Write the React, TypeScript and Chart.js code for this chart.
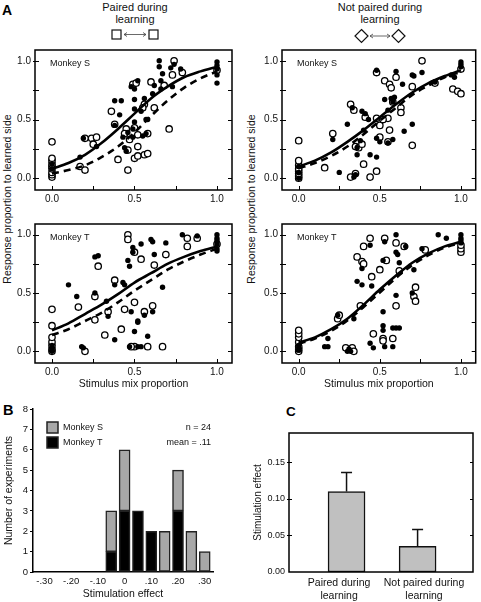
import React, { useEffect, useRef } from "react";
import { Chart, registerables } from "chart.js";

Chart.register(...registerables);

const FONT = "'Liberation Sans', Arial, Helvetica, sans-serif";
Chart.defaults.font.family = FONT;
Chart.defaults.color = "#111";

// ---------------- data ----------------
const curveX = [0, 0.1, 0.2, 0.3, 0.4, 0.5, 0.6, 0.7, 0.8, 0.9, 1.0];
const mixTicks = [0, 0.5, 1];
const mixMinorTicks = [0, 0.25, 0.5, 0.75, 1];

// Paired during learning, Monkey S
const tlSolid = [0.08, 0.13, 0.2, 0.3, 0.42, 0.55, 0.68, 0.78, 0.86, 0.91, 0.95];
const tlDashed = [0.04, 0.07, 0.11, 0.18, 0.27, 0.39, 0.53, 0.66, 0.77, 0.85, 0.91];
const tlFilled: [number, number][] = [
  [0, 0.08], [0, 0.12], [0.17, 0.18], [0.19, 0.34], [0.27, 0.27], [0.38, 0.66], [0.42, 0.66], [0.41, 0.54],
  [0.38, 0.45], [0.46, 0.39], [0.49, 0.35], [0.44, 0.26], [0.43, 0.35], [0.49, 0.42], [0.5, 0.59], [0.5, 0.67],
  [0.52, 0.83], [0.48, 0.78], [0.5, 0.76], [0.54, 0.57], [0.56, 0.68], [0.61, 0.72], [0.58, 0.5], [0.62, 0.79],
  [0.66, 0.76], [0.66, 0.83], [0.67, 0.89], [0.65, 1.0], [0.65, 0.95], [0.72, 0.94], [0.74, 0.97], [0.73, 0.78],
  [0.78, 0.93], [1, 0.99], [1, 0.96], [1, 0.93], [1, 0.88], [1, 0.81], [0.5, 0.48], [0.57, 0.38], [0.45, 0.23],
  [0.55, 0.36], [0.57, 0.5],
];
const tlOpen: [number, number][] = [
  [0, 0.01], [0, 0.03], [0, 0.05], [0, 0.08], [0, 0.1], [0, 0.12], [0, 0.15], [0, 0.17], [0, 0.31], [0.17, 0.1],
  [0.2, 0.07], [0.24, 0.34], [0.27, 0.35], [0.25, 0.29], [0.36, 0.57], [0.4, 0.16], [0.38, 0.46], [0.45, 0.42],
  [0.46, 0.24], [0.46, 0.07], [0.49, 0.8], [0.5, 0.43], [0.52, 0.37], [0.52, 0.27], [0.5, 0.17], [0.52, 0.19],
  [0.56, 0.2], [0.58, 0.21], [0.56, 0.63], [0.58, 0.38], [0.6, 0.82], [0.62, 0.6], [0.71, 0.42], [0.73, 0.88],
  [0.74, 1.0], [0.79, 0.9], [1, 0.92], [0.47, 0.33], [0.44, 0.38], [0.55, 0.6], [0.51, 0.81], [0.68, 0.79],
  [0.2, 0.34],
];

// Not paired during learning, Monkey S
const trSolid = [0.1, 0.15, 0.22, 0.31, 0.41, 0.52, 0.63, 0.73, 0.81, 0.87, 0.92];
const trDashed = [0.085, 0.13, 0.19, 0.27, 0.375, 0.49, 0.6, 0.71, 0.79, 0.86, 0.905];
const trFilled: [number, number][] = [
  [0, 0.0], [0, 0.05], [0, 0.1], [0.21, 0.33], [0.25, 0.05], [0.3, 0.46], [0.33, 0.6], [0.34, 0.01], [0.36, 0.2],
  [0.36, 0.26], [0.38, 0.32], [0.39, 0.57], [0.41, 0.55], [0.43, 0.5], [0.44, 0.2], [0.48, 0.18], [0.48, 0.34],
  [0.48, 0.92], [0.5, 0.31], [0.53, 0.67], [0.55, 0.58], [0.57, 0.68], [0.58, 0.65], [0.59, 0.69], [0.6, 0.91],
  [0.58, 0.33], [0.65, 0.4], [0.64, 0.8], [0.7, 0.46], [0.71, 0.87], [0.76, 0.9], [0.84, 0.82], [0.94, 0.88],
  [0.96, 0.86], [1, 0.97], [1, 0.99], [1, 0.95], [0.35, 0.03], [0.55, 0.3], [0.7, 0.88], [0.4, 0.41],
];
const trOpen: [number, number][] = [
  [0, 0.0], [0, 0.02], [0, 0.04], [0, 0.06], [0, 0.08], [0, 0.11], [0, 0.15], [0, 0.32], [0.16, 0.09], [0.21, 0.38],
  [0.32, 0.01], [0.35, 0.04], [0.32, 0.63], [0.34, 0.58], [0.35, 0.27], [0.37, 0.26], [0.39, 0.29], [0.4, 0.12],
  [0.41, 0.52], [0.48, 0.9], [0.48, 0.51], [0.5, 0.45], [0.5, 0.35], [0.48, 0.06], [0.44, 0.01], [0.53, 0.83],
  [0.55, 0.51], [0.55, 0.31], [0.56, 0.8], [0.57, 0.77], [0.56, 0.41], [0.6, 0.86], [0.63, 0.6], [0.63, 0.56],
  [0.7, 0.78], [0.7, 0.28], [0.76, 1.0], [0.84, 0.81], [0.95, 0.76], [0.98, 0.74], [1, 0.72], [1, 0.93],
  [0.58, 0.65], [0.52, 0.5],
];

// Paired during learning, Monkey T
const blSolid = [0.18, 0.24, 0.32, 0.4, 0.49, 0.59, 0.67, 0.75, 0.81, 0.86, 0.9];
const blDashed = [0.14, 0.19, 0.26, 0.33, 0.42, 0.52, 0.61, 0.7, 0.77, 0.83, 0.88];
const blFilled: [number, number][] = [
  [0, 0.0], [0, 0.01], [0, 0.02], [0, 0.03], [0, 0.05], [0.1, 0.57], [0.18, 0.04], [0.15, 0.47], [0.19, 0.03],
  [0.26, 0.81], [0.28, 0.82], [0.26, 0.5], [0.33, 0.43], [0.34, 0.3], [0.38, 0.57], [0.38, 0.1], [0.43, 0.59],
  [0.44, 0.57], [0.46, 0.78], [0.47, 0.73], [0.48, 0.34], [0.49, 0.89], [0.49, 0.85], [0.5, 0.17], [0.52, 0.25],
  [0.54, 0.92], [0.47, 0.04], [0.52, 0.04], [0.54, 0.04], [0.56, 0.31], [0.58, 0.13], [0.6, 0.96], [0.61, 0.94],
  [0.62, 0.83], [0.61, 0.34], [0.67, 0.55], [0.69, 0.93], [0.79, 1.0], [0.88, 0.99], [1, 1.0], [1, 0.97],
  [1, 0.95], [1, 0.92], [1, 0.88], [1, 0.86], [0.52, 0.26],
];
const blOpen: [number, number][] = [
  [0, 0.0], [0, 0.02], [0, 0.05], [0, 0.08], [0, 0.12], [0, 0.22], [0, 0.36], [0.16, 0.38], [0.2, 0.0],
  [0.26, 0.47], [0.26, 0.27], [0.28, 0.73], [0.32, 0.14], [0.34, 0.34], [0.38, 0.61], [0.42, 0.19], [0.44, 0.36],
  [0.46, 1.0], [0.46, 0.96], [0.5, 0.85], [0.5, 0.04], [0.5, 0.42], [0.54, 0.79], [0.56, 0.34], [0.58, 0.04],
  [0.61, 0.39], [0.62, 0.74], [0.69, 0.83], [0.67, 0.04], [0.82, 0.97], [0.82, 0.9], [0.88, 0.97], [1, 0.92],
  [0.48, 0.04],
];

// Not paired during learning, Monkey T
const brSolid = [0.076, 0.12, 0.19, 0.28, 0.4, 0.53, 0.65, 0.76, 0.84, 0.9, 0.94];
const brDashed = [0.065, 0.11, 0.175, 0.265, 0.38, 0.505, 0.63, 0.74, 0.825, 0.89, 0.93];
const brFilled: [number, number][] = [
  [0, 0.01], [0, 0.03], [0, 0.05], [0.16, 0.04], [0.18, 0.04], [0.18, 0.11], [0.24, 0.31], [0.3, 0.0], [0.32, 0.0],
  [0.34, 0.28], [0.36, 0.6], [0.39, 0.71], [0.39, 0.57], [0.44, 0.91], [0.45, 0.56], [0.44, 0.07], [0.46, 0.03],
  [0.52, 0.34], [0.52, 0.22], [0.52, 0.18], [0.53, 0.94], [0.53, 0.04], [0.52, 0.78], [0.58, 0.04], [0.58, 0.2],
  [0.6, 1.0], [0.6, 0.85], [0.6, 0.48], [0.61, 0.83], [0.62, 0.76], [0.62, 0.2], [0.66, 0.9], [0.71, 0.7],
  [0.7, 0.5], [0.76, 0.88], [0.86, 1.0], [0.91, 0.97], [1, 1.0], [1, 0.97], [1, 0.95], [1, 0.93], [0.6, 0.2],
  [0.31, 0.02],
];
const brOpen: [number, number][] = [
  [0, 0.0], [0, 0.02], [0, 0.04], [0, 0.08], [0, 0.12], [0, 0.15], [0, 0.18], [0.24, 0.28], [0.25, 0.31],
  [0.29, 0.03], [0.33, 0.03], [0.34, 0.0], [0.36, 0.81], [0.39, 0.77], [0.4, 0.75], [0.38, 0.39], [0.44, 0.97],
  [0.4, 0.9], [0.45, 0.64], [0.46, 0.15], [0.5, 0.7], [0.53, 0.97], [0.54, 0.78], [0.52, 0.11], [0.52, 0.09],
  [0.6, 0.93], [0.62, 0.69], [0.65, 0.9], [0.6, 0.39], [0.58, 0.11], [0.71, 0.47], [0.72, 0.43], [0.72, 0.55],
  [0.78, 0.87], [1, 0.85], [1, 0.88], [1, 0.91],
];

// Panel B histogram
const bBins = [-0.05, 0, 0.05, 0.1, 0.15, 0.2, 0.25, 0.3];
const bMonkeyT = [1, 3, 3, 2, 0, 3, 0, 0];
const bMonkeyS = [2, 3, 0, 0, 2, 2, 2, 1];
const bTickValues = [-0.3, -0.2, -0.1, 0, 0.1, 0.2, 0.3];
const bTickLabels = ["-.30", "-.20", "-.10", "0", ".10", ".20", ".30"];
const bStats = ["n = 24", "mean = .11"];

// Panel C
const cCategories = [["Paired during", "learning"], ["Not paired during", "learning"]];
const cValues = [0.11, 0.035];
const cErrors = [0.026, 0.023];
const cTicks = [0, 0.05, 0.1, 0.15];

// ---------------- plugins (closure based) ----------------
function makeFrame(cfg: { xTicks: number[]; yTicks: number[]; tickLen: number; outLen: number; lineWidth: number }) {
  return {
    id: "frame",
    afterDraw(chart: any) {
      const { ctx, chartArea: a, scales } = chart;
      ctx.save();
      ctx.strokeStyle = "#000";
      ctx.lineWidth = cfg.lineWidth;
      ctx.strokeRect(a.left, a.top, a.right - a.left, a.bottom - a.top);
      ctx.lineWidth = 1;
      ctx.beginPath();
      cfg.xTicks.forEach((v) => {
        const px = Math.round(scales.x.getPixelForValue(v)) + 0.5;
        ctx.moveTo(px, a.bottom);
        ctx.lineTo(px, a.bottom - cfg.tickLen);
      });
      cfg.yTicks.forEach((v) => {
        const py = Math.round(scales.y.getPixelForValue(v)) + 0.5;
        ctx.moveTo(a.left - cfg.outLen, py);
        ctx.lineTo(a.left + cfg.tickLen, py);
        ctx.moveTo(a.right, py);
        ctx.lineTo(a.right - cfg.tickLen, py);
      });
      ctx.stroke();
      ctx.restore();
    },
  };
}

function makeNotes(items: { text: string; dx: number; dy: number; size: number; align?: string }[]) {
  return {
    id: "notes",
    afterDraw(chart: any) {
      const { ctx, chartArea: a } = chart;
      ctx.save();
      items.forEach((it) => {
        ctx.font = `${it.size}px ${FONT}`;
        ctx.fillStyle = "#111";
        ctx.textAlign = (it.align || "left") as CanvasTextAlign;
        ctx.textBaseline = "middle";
        ctx.fillText(it.text, a.left + it.dx, a.top + it.dy);
      });
      ctx.restore();
    },
  };
}

function makeBoxLegend(cfg: { order: number[]; dx: number; dy: number; step: number; box: number; size: number }) {
  return {
    id: "boxLegend",
    afterDraw(chart: any) {
      const { ctx, chartArea: a } = chart;
      ctx.save();
      cfg.order.forEach((di, k) => {
        const ds = chart.data.datasets[di];
        const x = a.left + cfg.dx;
        const y = a.top + cfg.dy + k * cfg.step;
        ctx.fillStyle = ds.backgroundColor;
        ctx.fillRect(x, y, cfg.box, cfg.box);
        ctx.strokeStyle = "#222";
        ctx.lineWidth = 1.5;
        ctx.strokeRect(x, y, cfg.box, cfg.box);
        ctx.fillStyle = "#111";
        ctx.font = `${cfg.size}px ${FONT}`;
        ctx.textBaseline = "middle";
        ctx.textAlign = "left";
        ctx.fillText(ds.label, x + cfg.box + 5, y + cfg.box / 2 + 0.5);
      });
      ctx.restore();
    },
  };
}

function makeErrorBars(errors: number[], cap: number) {
  return {
    id: "errorBars",
    afterDatasetsDraw(chart: any) {
      const { ctx, scales } = chart;
      const meta = chart.getDatasetMeta(0);
      const ds = chart.data.datasets[0];
      ctx.save();
      ctx.strokeStyle = "#111";
      ctx.lineWidth = 1.5;
      meta.data.forEach((el: any, i: number) => {
        const v = ds.data[i].y;
        const top = scales.y.getPixelForValue(v + errors[i]);
        ctx.beginPath();
        ctx.moveTo(el.x, el.y);
        ctx.lineTo(el.x, top);
        ctx.moveTo(el.x - cap / 2, top);
        ctx.lineTo(el.x + cap / 2, top);
        ctx.stroke();
      });
      ctx.restore();
    },
  };
}

// ---------------- configs ----------------
function scatterConfig(p: {
  solid: number[];
  dashed: number[];
  filled: [number, number][];
  open: [number, number][];
  monkey: string;
  xTitle: boolean;
  padRight: number;
}): any {
  return {
    type: "scatter",
    data: {
      datasets: [
        {
          type: "line",
          label: "Stimulated fit",
          data: curveX.map((x, i) => ({ x, y: p.solid[i] })),
          borderColor: "#000",
          borderWidth: 2.6,
          pointRadius: 0,
          cubicInterpolationMode: "monotone",
          fill: false,
        },
        {
          type: "line",
          label: "Non-stimulated fit",
          data: curveX.map((x, i) => ({ x, y: p.dashed[i] })),
          borderColor: "#000",
          borderWidth: 2.6,
          borderDash: [7, 5],
          pointRadius: 0,
          cubicInterpolationMode: "monotone",
          fill: false,
        },
        {
          label: "Stimulated",
          data: p.filled.map(([x, y]) => ({ x, y })),
          pointRadius: 2.7,
          backgroundColor: "#000",
          borderColor: "#000",
          borderWidth: 0,
        },
        {
          label: "Non-stimulated",
          data: p.open.map(([x, y]) => ({ x, y })),
          pointRadius: 3.2,
          backgroundColor: "#fff",
          borderColor: "#000",
          borderWidth: 1.3,
        },
      ],
    },
    options: {
      responsive: false,
      animation: false,
      events: [],
      layout: { padding: { left: 0, top: 7, right: p.padRight, bottom: 0 } },
      plugins: { legend: { display: false }, tooltip: { enabled: false } },
      scales: {
        x: {
          type: "linear",
          min: -0.103,
          max: 1.091,
          afterBuildTicks: (s: any) => {
            s.ticks = mixTicks.map((v) => ({ value: v }));
          },
          ticks: { callback: (v: any) => Number(v).toFixed(1), font: { size: 10 }, padding: 3, maxRotation: 0, autoSkip: false },
          grid: { display: false, drawTicks: false, tickLength: 0 },
          border: { display: false },
          title: { display: p.xTitle, text: "Stimulus mix proportion", font: { size: 10.5 }, padding: { top: 0, bottom: 1 } },
          afterFit: (s: any) => {
            s.height = p.xTitle ? 28 : 22;
          },
        },
        y: {
          type: "linear",
          min: -0.1,
          max: 1.092,
          afterBuildTicks: (s: any) => {
            s.ticks = mixTicks.map((v) => ({ value: v }));
          },
          ticks: { callback: (v: any) => Number(v).toFixed(1), font: { size: 10 }, padding: 4, autoSkip: false },
          grid: { display: false, drawTicks: false, tickLength: 0 },
          border: { display: false },
          afterFit: (s: any) => {
            s.width = 35;
          },
        },
      },
    },
    plugins: [
      makeFrame({ xTicks: mixMinorTicks, yTicks: mixMinorTicks, tickLen: 4, outLen: 2, lineWidth: 1.5 }),
      makeNotes([{ text: p.monkey, dx: 15, dy: 14, size: 9 }]),
    ],
  };
}

function histConfig(): any {
  return {
    type: "bar",
    data: {
      datasets: [
        {
          label: "Monkey T",
          data: bBins.map((x, i) => ({ x, y: bMonkeyT[i] })).filter((d) => d.y > 0),
          backgroundColor: "#000000",
          borderColor: "#222",
          borderWidth: 1.5,
          borderSkipped: false,
          barThickness: 11,
        },
        {
          label: "Monkey S",
          data: bBins.map((x, i) => ({ x, y: bMonkeyS[i] })).filter((d) => d.y > 0),
          backgroundColor: "#a8a8a8",
          borderColor: "#222",
          borderWidth: 1.5,
          borderSkipped: false,
          barThickness: 11,
        },
      ],
    },
    options: {
      responsive: false,
      animation: false,
      events: [],
      layout: { padding: { left: 0, top: 14, right: 27, bottom: 0 } },
      plugins: { legend: { display: false }, tooltip: { enabled: false } },
      scales: {
        x: {
          type: "linear",
          stacked: true,
          offset: false,
          min: -0.343,
          max: 0.331,
          afterBuildTicks: (s: any) => {
            s.ticks = bTickValues.map((v) => ({ value: v }));
          },
          ticks: { callback: (_v: any, i: number) => bTickLabels[i], font: { size: 9.5 }, padding: 4, maxRotation: 0, autoSkip: false },
          grid: { display: false, drawTicks: false, tickLength: 0, offset: false },
          border: { display: true, color: "#000", width: 1.5 },
          title: { display: true, text: "Stimulation effect", font: { size: 10.5 }, padding: { top: 0, bottom: 2 } },
          afterFit: (s: any) => {
            s.height = 30;
          },
        },
        y: {
          stacked: true,
          min: 0,
          max: 8,
          ticks: { stepSize: 1, font: { size: 9.5 }, padding: 2 },
          grid: { display: true, drawOnChartArea: false, drawTicks: true, tickLength: 3, color: "#000", lineWidth: 1 },
          border: { display: true, color: "#000", width: 1.5 },
          title: { display: true, text: "Number of experiments", font: { size: 10.5 }, padding: { top: 3, bottom: 0 } },
          afterFit: (s: any) => {
            s.width = 33;
          },
        },
      },
    },
    plugins: [
      makeBoxLegend({ order: [1, 0], dx: 14, dy: 13, step: 15, box: 11, size: 9 }),
      makeNotes([
        { text: bStats[0], dx: 178, dy: 19, size: 9, align: "right" },
        { text: bStats[1], dx: 178, dy: 34, size: 9, align: "right" },
      ]),
    ],
  };
}

function barConfig(): any {
  // label anchors sit slightly outside the bar centres, as in the original figure
  const labelShift = [-0.105, 0.09];
  return {
    type: "bar",
    data: {
      datasets: [
        {
          label: "Stimulation effect",
          data: cValues.map((v, i) => ({ x: i + 1, y: v })),
          backgroundColor: "#c0c0c0",
          borderColor: "#111",
          borderWidth: 1.5,
          borderSkipped: false,
          barThickness: 37,
        },
      ],
    },
    options: {
      responsive: false,
      animation: false,
      events: [],
      layout: { padding: { left: 0, top: 33, right: 8, bottom: 0 } },
      plugins: { legend: { display: false }, tooltip: { enabled: false } },
      scales: {
        x: {
          type: "linear",
          offset: false,
          min: 0.19,
          max: 2.78,
          afterBuildTicks: (s: any) => {
            s.ticks = cCategories.map((_c, i) => ({ value: i + 1 + labelShift[i] }));
          },
          ticks: { callback: (_v: any, i: number) => cCategories[i], font: { size: 10.5 }, padding: 5, maxRotation: 0, autoSkip: false },
          grid: { display: false, drawTicks: false, tickLength: 0, offset: false },
          border: { display: false },
          afterFit: (s: any) => {
            s.height = 30;
          },
        },
        y: {
          min: 0,
          max: 0.19,
          afterBuildTicks: (s: any) => {
            s.ticks = cTicks.map((v) => ({ value: v }));
          },
          ticks: { callback: (v: any) => Number(v).toFixed(2), font: { size: 9 }, padding: 4, autoSkip: false },
          grid: { display: false, drawTicks: false, tickLength: 0 },
          border: { display: false },
          title: { display: true, text: "Stimulation effect", font: { size: 10 }, padding: { top: 2, bottom: 0 } },
          afterFit: (s: any) => {
            s.width = 39;
          },
        },
      },
    },
    plugins: [
      makeFrame({ xTicks: [], yTicks: [0.05, 0.1, 0.15], tickLen: 3, outLen: 2, lineWidth: 1.5 }),
      makeErrorBars(cErrors, 11),
    ],
  };
}

// ---------------- components ----------------
function ChartCanvas(props: { left: number; top: number; width: number; height: number; make: () => any }) {
  const ref = useRef<HTMLCanvasElement>(null);
  useEffect(() => {
    const chart = new Chart(ref.current as HTMLCanvasElement, props.make());
    return () => chart.destroy();
  }, []);
  return (
    <canvas
      ref={ref}
      width={props.width}
      height={props.height}
      style={{ position: "absolute", left: props.left, top: props.top, width: props.width, height: props.height }}
    />
  );
}

const VText = (p: { cx: number; cy: number; size: number; text: string }) => (
  <div
    style={{
      position: "absolute",
      left: p.cx,
      top: p.cy,
      transform: "translate(-50%,-50%) rotate(-90deg)",
      whiteSpace: "nowrap",
      fontSize: p.size,
      lineHeight: `${p.size + 1}px`,
      fontFamily: FONT,
      color: "#111",
    }}
  >
    {p.text}
  </div>
);

const Letter = (p: { x: number; y: number; size: number; text: string }) => (
  <div
    style={{
      position: "absolute",
      left: p.x,
      top: p.y,
      fontSize: p.size,
      lineHeight: `${p.size}px`,
      fontWeight: "bold",
      fontFamily: FONT,
      color: "#000",
    }}
  >
    {p.text}
  </div>
);

const Header = (p: { cx: number; lines: string[] }) => (
  <div
    style={{
      position: "absolute",
      left: p.cx - 80,
      top: 1,
      width: 160,
      textAlign: "center",
      fontSize: 11,
      lineHeight: "12px",
      fontFamily: FONT,
      color: "#111",
    }}
  >
    {p.lines.map((l, i) => (
      <div key={i}>{l}</div>
    ))}
  </div>
);

function Arrow(p: { x1: number; x2: number; y: number }) {
  const h = 2;
  return (
    <g stroke="#444" strokeWidth={0.8} fill="none">
      <line x1={p.x1} y1={p.y} x2={p.x2} y2={p.y} />
      <polyline points={`${p.x1 + h + 1},${p.y - h} ${p.x1},${p.y} ${p.x1 + h + 1},${p.y + h}`} />
      <polyline points={`${p.x2 - h - 1},${p.y - h} ${p.x2},${p.y} ${p.x2 - h - 1},${p.y + h}`} />
    </g>
  );
}

export default function App() {
  const yTitle = "Response proportion to learned side";
  return (
    <div
      style={{
        position: "absolute",
        left: 0,
        top: 0,
        width: 481,
        height: 602,
        overflow: "hidden",
        background: "#fff",
        fontFamily: FONT,
      }}
    >
      <Letter x={2} y={3} size={14} text="A" />
      <Letter x={3} y={403} size={14.5} text="B" />
      <Letter x={286} y={405} size={13.5} text="C" />

      <Header cx={135} lines={["Paired during", "learning"]} />
      <Header cx={380} lines={["Not paired during", "learning"]} />
      <svg width={481} height={50} style={{ position: "absolute", left: 0, top: 0 }}>
        <rect x={112} y={30} width={9} height={9} fill="#fff" stroke="#111" strokeWidth={1.2} />
        <rect x={149} y={30} width={9} height={9} fill="#fff" stroke="#111" strokeWidth={1.2} />
        <Arrow x1={124} x2={146} y={34.5} />
        <polygon points="361.5,29.5 368,36 361.5,42.5 355,36" fill="#fff" stroke="#111" strokeWidth={1.2} />
        <polygon points="398.5,29.5 405,36 398.5,42.5 392,36" fill="#fff" stroke="#111" strokeWidth={1.2} />
        <Arrow x1={370} x2={390} y={36} />
      </svg>

      <VText cx={8} cy={199} size={10.5} text={yTitle} />
      <VText cx={252} cy={199} size={10.5} text={yTitle} />

      <ChartCanvas
        left={0}
        top={40}
        width={240}
        height={172}
        make={() => scatterConfig({ solid: tlSolid, dashed: tlDashed, filled: tlFilled, open: tlOpen, monkey: "Monkey S", xTitle: false, padRight: 8 })}
      />
      <ChartCanvas
        left={247}
        top={40}
        width={234}
        height={172}
        make={() => scatterConfig({ solid: trSolid, dashed: trDashed, filled: trFilled, open: trOpen, monkey: "Monkey S", xTitle: false, padRight: 3 })}
      />
      <ChartCanvas
        left={0}
        top={214}
        width={240}
        height={177}
        make={() => scatterConfig({ solid: blSolid, dashed: blDashed, filled: blFilled, open: blOpen, monkey: "Monkey T", xTitle: true, padRight: 8 })}
      />
      <ChartCanvas
        left={247}
        top={214}
        width={234}
        height={177}
        make={() => scatterConfig({ solid: brSolid, dashed: brDashed, filled: brFilled, open: brOpen, monkey: "Monkey T", xTitle: true, padRight: 3 })}
      />
      <ChartCanvas left={0} top={395} width={240} height={207} make={histConfig} />
      <ChartCanvas left={250} top={400} width={231} height={202} make={barConfig} />
    </div>
  );
}
